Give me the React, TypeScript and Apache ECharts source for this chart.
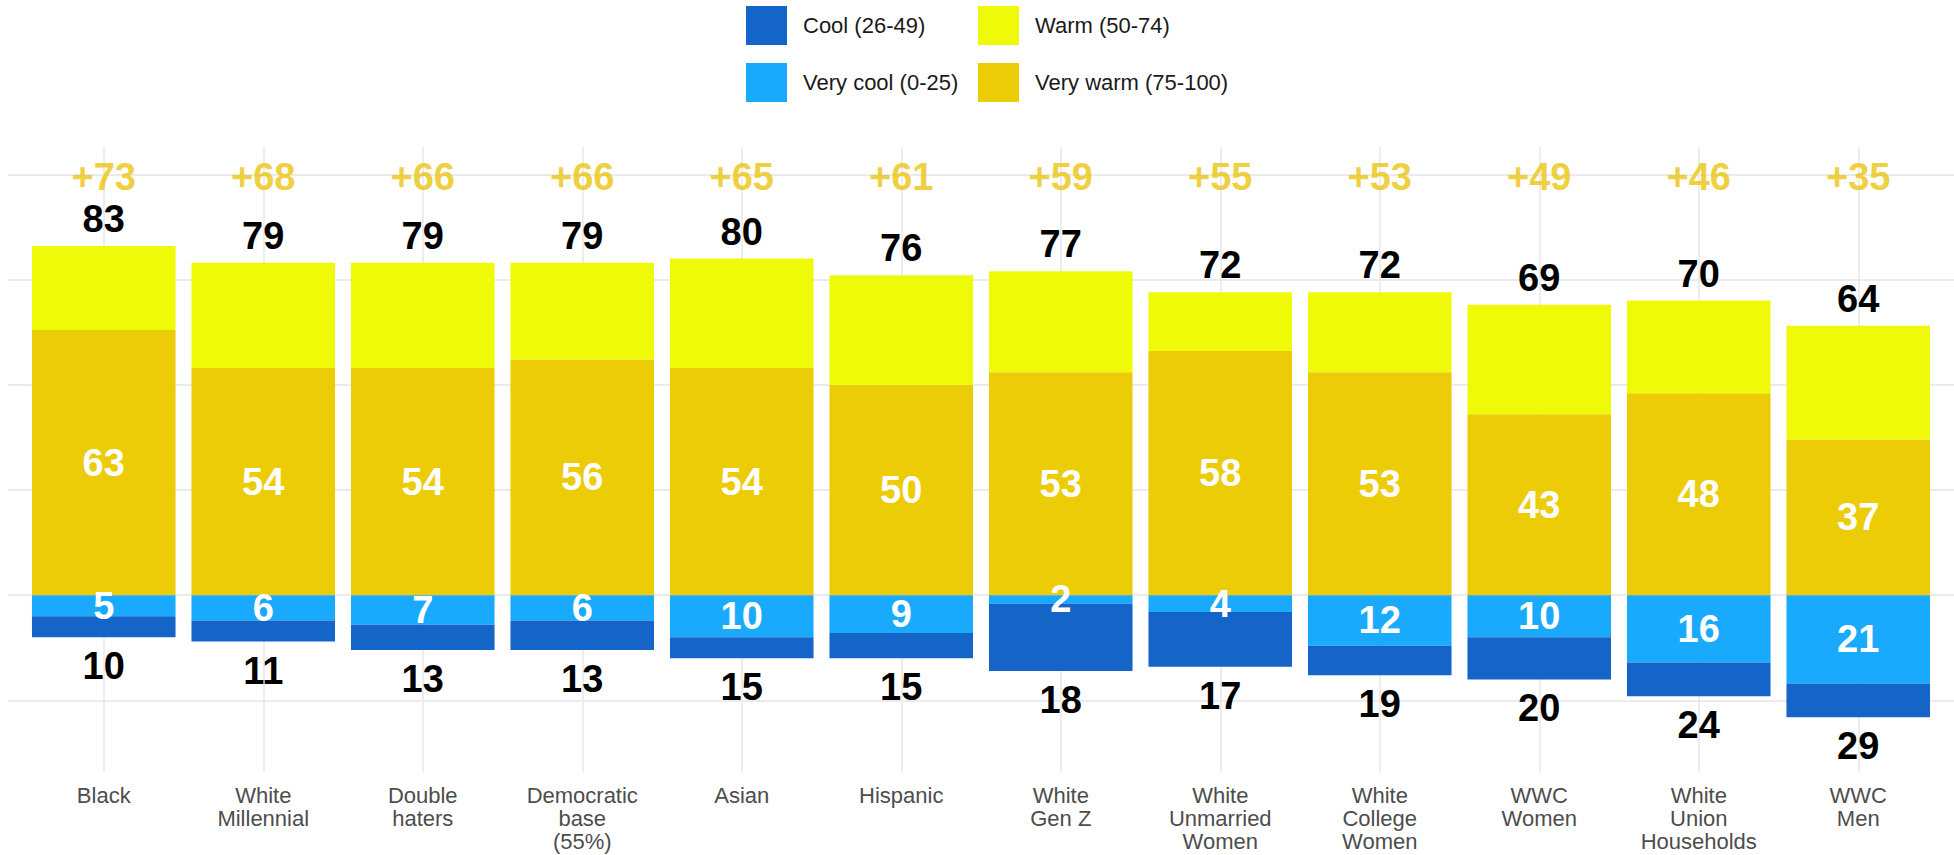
import React, { useEffect, useRef } from "react";
import * as echarts from "echarts";

const categories = [
  "Black",
  "White\nMillennial",
  "Double\nhaters",
  "Democratic\nbase\n(55%)",
  "Asian",
  "Hispanic",
  "White\nGen Z",
  "White\nUnmarried\nWomen",
  "White\nCollege\nWomen",
  "WWC\nWomen",
  "White\nUnion\nHouseholds",
  "WWC\nMen",
];

// segment values (percent)
const veryWarm = [63, 54, 54, 56, 54, 50, 53, 58, 53, 43, 48, 37];
const warm = [20, 25, 25, 23, 26, 26, 24, 14, 19, 26, 22, 27];
const veryCool = [5, 6, 7, 6, 10, 9, 2, 4, 12, 10, 16, 21];
const cool = [5, 5, 6, 7, 5, 6, 16, 13, 7, 10, 8, 8];

// labels
const warmTotals = [83, 79, 79, 79, 80, 76, 77, 72, 72, 69, 70, 64];
const coolTotals = [10, 11, 13, 13, 15, 15, 18, 17, 19, 20, 24, 29];
const netLabels = [73, 68, 66, 66, 65, 61, 59, 55, 53, 49, 46, 35];

const gridValues = [-25, 0, 25, 50, 75, 100];

const C_COOL = "#1565C9";
const C_VCOOL = "#1AAAFD";
const C_WARM = "#EFFA08";
const C_VWARM = "#ECCB07";
const C_NET = "#EAC40C";

export default function App() {
  const ref = useRef<HTMLDivElement>(null);
  useEffect(() => {
    if (!ref.current) return;
    const chart = echarts.init(ref.current, null, { renderer: "svg" });
    const Y_MIN = -42;
    const Y_MAX = 106.5;
    const NET_Y = 99.3;
    const bigFont = {
      fontFamily: "'Liberation Sans', Arial, sans-serif",
      fontWeight: "bold" as const,
      fontSize: 38,
    };
    const legendText = {
      fontFamily: "'Liberation Sans', Arial, sans-serif",
      fontSize: 22,
      color: "#1a1a1a",
      padding: [0, 0, 0, 11],
    };
    const option: any = {
      animation: false,
      backgroundColor: "#ffffff",
      grid: [
        { left: 24, right: 16, top: 147, bottom: 83, containLabel: false },
        { left: 8, right: 0, top: 147, bottom: 83, containLabel: false },
      ],
      xAxis: [
        {
          type: "category",
          gridIndex: 0,
          data: categories,
          axisLine: { show: false },
          axisTick: { show: false },
          splitLine: { show: false },
          axisLabel: {
            margin: 12,
            fontFamily: "'Liberation Sans', Arial, sans-serif",
            fontSize: 22,
            lineHeight: 23,
            color: "#4d4d4d",
            interval: 0,
          },
        },
        {
          type: "value",
          gridIndex: 1,
          min: 0,
          max: 1,
          show: false,
        },
      ],
      yAxis: [
        {
          type: "value",
          gridIndex: 0,
          min: Y_MIN,
          max: Y_MAX,
          show: false,
          splitLine: { show: false },
        },
        {
          type: "value",
          gridIndex: 1,
          min: Y_MIN,
          max: Y_MAX,
          show: false,
          splitLine: { show: false },
        },
      ],
      legend: [
        {
          orient: "vertical",
          left: 741,
          top: 1,
          itemWidth: 41,
          itemHeight: 39,
          itemGap: 18,
          icon: "rect",
          data: ["Cool (26-49)", "Very cool (0-25)"],
          textStyle: legendText,
        },
        {
          orient: "vertical",
          left: 973,
          top: 1,
          itemWidth: 41,
          itemHeight: 39,
          itemGap: 18,
          icon: "rect",
          data: ["Warm (50-74)", "Very warm (75-100)"],
          textStyle: legendText,
        },
      ],
      series: [
        {
          type: "line",
          xAxisIndex: 1,
          yAxisIndex: 1,
          data: [],
          z: 0,
          silent: true,
          markLine: {
            silent: true,
            z: 0,
            symbol: "none",
            label: { show: false },
            lineStyle: { color: "#ebebeb", width: 1.8, type: "solid" },
            data: gridValues.map((v) => ({ yAxis: v })),
          },
        },
        {
          type: "line",
          xAxisIndex: 0,
          yAxisIndex: 0,
          data: [],
          z: 0,
          silent: true,
          markLine: {
            silent: true,
            z: 0,
            symbol: "none",
            label: { show: false },
            lineStyle: { color: "#ebebeb", width: 1.8, type: "solid" },
            data: categories.map((c) => ({ xAxis: c })),
          },
        },
        {
          name: "Very warm (75-100)",
          type: "bar",
          stack: "all",
          barWidth: "90%",
          z: 2,
          data: veryWarm,
          itemStyle: { color: C_VWARM },
          label: {
            show: true,
            position: "inside",
            color: "#ffffff",
            ...bigFont,
          },
        },
        {
          name: "Warm (50-74)",
          type: "bar",
          stack: "all",
          barWidth: "90%",
          z: 2,
          data: warm,
          itemStyle: { color: C_WARM },
          label: {
            show: true,
            position: "top",
            distance: 8,
            color: "#000000",
            formatter: (p: any) => String(warmTotals[p.dataIndex]),
            ...bigFont,
          },
        },
        {
          name: "Very cool (0-25)",
          type: "bar",
          stack: "all",
          barWidth: "90%",
          z: 2,
          data: veryCool.map((v) => -v),
          itemStyle: { color: C_VCOOL },
          label: {
            show: true,
            position: "inside",
            color: "#ffffff",
            formatter: (p: any) => String(veryCool[p.dataIndex]),
            ...bigFont,
          },
        },
        {
          name: "Cool (26-49)",
          type: "bar",
          stack: "all",
          barWidth: "90%",
          z: 2,
          data: cool.map((v) => -v),
          itemStyle: { color: C_COOL },
          label: {
            show: true,
            position: "bottom",
            distance: 10,
            color: "#000000",
            formatter: (p: any) => String(coolTotals[p.dataIndex]),
            ...bigFont,
          },
        },
        {
          type: "scatter",
          xAxisIndex: 0,
          yAxisIndex: 0,
          symbolSize: 0,
          z: 3,
          silent: true,
          data: netLabels.map((n, i) => ({ value: [categories[i], NET_Y], net: n })),
          label: {
            show: true,
            position: "inside",
            color: C_NET,
            formatter: (p: any) => "+" + netLabels[p.dataIndex],
            ...bigFont,
          },
        },
      ],
    };
    chart.setOption(option);
    return () => chart.dispose();
  }, []);
  return (
    <div
      ref={ref}
      style={{ position: "absolute", left: 0, top: 0, width: 1954, height: 855 }}
    />
  );
}
